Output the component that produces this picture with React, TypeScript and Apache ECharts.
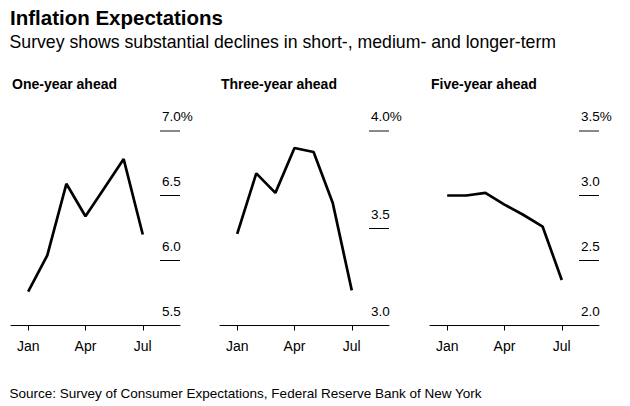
import React, { useEffect, useRef } from "react";
import * as echarts from "echarts";

const months = ["Jan", "Feb", "Mar", "Apr", "May", "Jun", "Jul"];
const monthTickLabels = ["Jan", "Apr", "Jul"];

const panelTitles = ["One-year ahead", "Three-year ahead", "Five-year ahead"];

const oneYear = [5.76, 6.04, 6.59, 6.34, 6.56, 6.78, 6.2];
const threeYear = [3.47, 3.78, 3.68, 3.91, 3.89, 3.63, 3.18];
const fiveYear = [3.0, 3.0, 3.02, 2.93, 2.85, 2.76, 2.35];

const oneYearTicks = [5.5, 6.0, 6.5, 7.0];
const threeYearTicks = [3.0, 3.5, 4.0];
const fiveYearTicks = [2.0, 2.5, 3.0, 3.5];

const titleText = "Inflation Expectations";
const subtitleText = "Survey shows substantial declines in short-, medium- and longer-term";
const sourceText = "Source: Survey of Consumer Expectations, Federal Reserve Bank of New York";

const SANS = "'Liberation Sans', Arial, Helvetica, sans-serif";

export default function App() {
  const ref = useRef<HTMLDivElement>(null);

  useEffect(() => {
    document.body.style.margin = "0";
    if (!ref.current) return;
    const chart = echarts.init(ref.current, undefined, { renderer: "svg" });

    const seriesValues = [oneYear, threeYear, fiveYear];
    const tickSets = [oneYearTicks, threeYearTicks, fiveYearTicks];
    const lefts = [11, 220, 430];
    const gridWidth = 169;
    const tickIdx = monthTickLabels.map((m) => months.indexOf(m));

    const grids: any[] = [];
    const xAxes: any[] = [];
    const yAxes: any[] = [];
    const series: any[] = [];
    const titles: any[] = [];
    const xMin = -0.9;
    const xMax = 7.95;

    seriesValues.forEach((vals, i) => {
      const ticks = tickSets[i];
      const yMin = ticks[0];
      const yMax = ticks[ticks.length - 1];
      titles.push({
        text: panelTitles[i],
        left: lefts[i] + 1,
        top: 77,
        padding: 0,
        textStyle: { fontFamily: SANS, fontWeight: "bold", fontSize: 14, lineHeight: 14, color: "#000" },
      });
      grids.push({ left: lefts[i], width: gridWidth, top: 130.5, height: 195 });
      xAxes.push({
        type: "value",
        gridIndex: i,
        min: xMin,
        max: xMax,
        axisLine: { show: true, onZero: false, lineStyle: { color: "#000", width: 1 } },
        axisTick: { show: true, length: 5, customValues: tickIdx, lineStyle: { color: "#000" } },
        axisLabel: {
          customValues: tickIdx,
          formatter: (v: number) => months[Math.round(v)],
          fontFamily: SANS,
          fontSize: 14,
          lineHeight: 14,
          color: "#000",
          margin: 13,
        },
        splitLine: { show: false },
      });
      yAxes.push({
        type: "value",
        gridIndex: i,
        position: "right",
        min: yMin,
        max: yMax,
        interval: 0.5,
        axisLine: { show: false, onZero: false },
        axisTick: {
          show: true,
          inside: true,
          length: 20,
          customValues: ticks.slice(0, -1),
          lineStyle: { color: "#000", width: 1 },
        },
        axisLabel: {
          customValues: ticks,
          inside: true,
          align: "left",
          verticalAlign: "bottom",
          margin: 18,
          padding: [0, 0, 7, 0],
          fontFamily: SANS,
          fontSize: 13.5,
          lineHeight: 14,
          color: "#000",
          formatter: (v: number) => (v === yMax ? v.toFixed(1) + "%" : v.toFixed(1)),
        },
        splitLine: { show: false },
      });
      series.push({
        type: "line",
        xAxisIndex: i,
        yAxisIndex: i,
        data: vals.map((v, k) => [k, v]),
        showSymbol: false,
        symbol: "none",
        silent: true,
        lineStyle: { color: "#000", width: 2.7 },
      });
    });

    // overlay grids carrying only the grey top reference tick
    seriesValues.forEach((_vals, i) => {
      const ticks = tickSets[i];
      const yMin = ticks[0];
      const yMax = ticks[ticks.length - 1];
      grids.push({ left: lefts[i], width: gridWidth, top: 130.5, height: 195 });
      xAxes.push({
        type: "value",
        gridIndex: 3 + i,
        min: xMin,
        max: xMax,
        show: false,
      });
      yAxes.push({
        type: "value",
        gridIndex: 3 + i,
        position: "right",
        min: yMin,
        max: yMax,
        interval: 0.5,
        axisLine: { show: false, onZero: false },
        axisTick: {
          show: true,
          inside: true,
          length: 20,
          customValues: [yMax],
          lineStyle: { color: "#888", width: 2 },
        },
        axisLabel: { show: false },
        splitLine: { show: false },
      });
    });

    const graphics: any[] = [
      {
        type: "text",
        x: 10,
        y: 17.5,
        silent: true,
        style: {
          text: titleText,
          fontFamily: SANS,
          fontWeight: "bold",
          fontSize: 20.5,
          fill: "#000",
          verticalAlign: "middle",
          align: "left",
        },
      },
      {
        type: "text",
        x: 9.5,
        y: 42.3,
        silent: true,
        style: {
          text: subtitleText,
          fontFamily: SANS,
          fontWeight: "normal",
          fontSize: 17.7,
          fill: "#000",
          verticalAlign: "middle",
          align: "left",
        },
      },
      {
        type: "text",
        x: 9.5,
        y: 393.7,
        silent: true,
        style: {
          text: sourceText,
          fontFamily: SANS,
          fontWeight: "normal",
          fontSize: 13.5,
          fill: "#000",
          verticalAlign: "middle",
          align: "left",
        },
      },
    ];

    chart.setOption({
      animation: false,
      backgroundColor: "#fff",
      title: titles,
      grid: grids,
      xAxis: xAxes,
      yAxis: yAxes,
      series,
      graphic: graphics,
    });

    return () => chart.dispose();
  }, []);

  return (
    <div
      ref={ref}
      style={{ position: "absolute", left: 0, top: 0, width: 630, height: 406 }}
    />
  );
}
